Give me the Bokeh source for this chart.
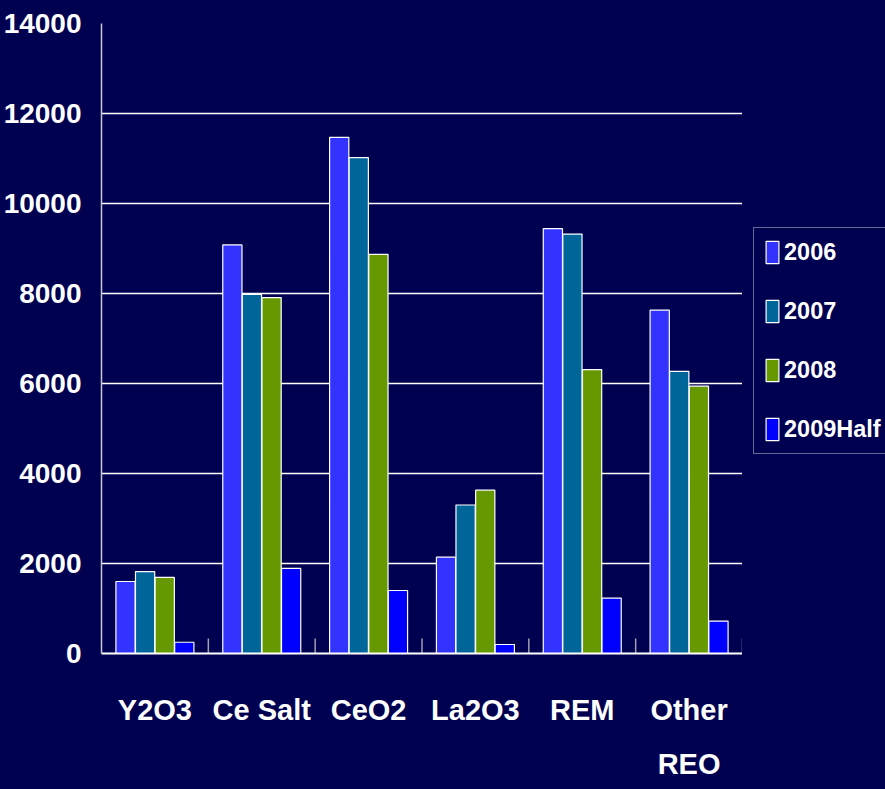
from bokeh.plotting import figure
from bokeh.layouts import row
from bokeh.models import (ColumnDataSource, Legend, LegendItem, FactorRange,
                          Range1d)
from bokeh.transform import dodge
from bokeh.embed import file_html
from bokeh.resources import INLINE

categories = ["Y2O3", "Ce Salt", "CeO2", "La2O3", "REM", "Other\nREO"]
y2006 = [1600, 9080, 11470, 2140, 9440, 7630]
y2007 = [1820, 7980, 11020, 3300, 9320, 6270]
y2008 = [1690, 7910, 8870, 3630, 6310, 5940]
y2009half = [250, 1890, 1400, 200, 1230, 720]
series_names = ["2006", "2007", "2008", "2009Half"]
y_ticks = [0, 2000, 4000, 6000, 8000, 10000, 12000, 14000]

BG = "#000050"
FONT = "Liberation Sans"

src = ColumnDataSource(dict(cat=categories, y2006=y2006, y2007=y2007,
                            y2008=y2008, y2009half=y2009half))

p = figure(x_range=FactorRange(*categories), y_range=(0, 14000),
           frame_width=641, frame_height=630, output_backend="svg",
           toolbar_location=None,
           min_border_left=100, min_border_right=0, min_border_top=23,
           min_border_bottom=136)
p.background_fill_color = BG
p.border_fill_color = BG
p.outline_line_color = None
p.x_range.range_padding = 0

cols = ["y2006", "y2007", "y2008", "y2009half"]
colors = ["#3333FF", "#006699", "#669900", "#0000FF"]
offsets = [-0.275, -0.092, 0.092, 0.275]
for c, col, off in zip(cols, colors, offsets):
    p.vbar(x=dodge("cat", off, range=p.x_range), top=c, width=0.18,
           source=src, fill_color=col, line_color="white", line_width=1.2)

# category separator ticks
p.rect(x=dodge("cat", 0.5, range=p.x_range), y=0, width=1.5, height=30,
       width_units="screen", height_units="screen", source=src,
       fill_color="#a0a0b0", line_color=None)

# axes
p.yaxis.ticker = y_ticks
p.ygrid.ticker = y_ticks
p.ygrid.grid_line_color = "white"
p.ygrid.grid_line_width = 1.6
p.xgrid.grid_line_color = None

p.yaxis.axis_line_color = "#c8c8d0"
p.yaxis.axis_line_width = 1.5
p.yaxis.major_tick_line_color = None
p.yaxis.major_tick_out = 0
p.yaxis.major_tick_in = 0
p.yaxis.minor_tick_line_color = None
p.yaxis.minor_tick_out = 0
p.yaxis.major_label_text_color = "white"
p.yaxis.major_label_text_font = FONT
p.yaxis.major_label_text_font_style = "bold"
p.yaxis.major_label_text_font_size = "28px"
p.yaxis.major_label_standoff = 20

p.xaxis.axis_line_color = "white"
p.xaxis.axis_line_width = 2
p.xaxis.major_tick_line_color = None
p.xaxis.major_tick_out = 0
p.xaxis.major_label_text_color = "white"
p.xaxis.major_label_text_font = FONT
p.xaxis.major_label_text_font_style = "bold"
p.xaxis.major_label_text_font_size = "29px"
p.xaxis.major_label_standoff = 40
p.xaxis.major_label_text_line_height = 1.7

# legend panel to the right of the plot (frame aligned with the main frame)
lp = figure(width=144, height=789, output_backend="svg", toolbar_location=None,
            x_axis_type=None, y_axis_type=None,
            x_range=Range1d(0, 1), y_range=Range1d(0, 1),
            min_border_left=11, min_border_top=23, min_border_right=0,
            min_border_bottom=136)
lp.background_fill_color = BG
lp.border_fill_color = BG
lp.outline_line_color = None
lp.grid.visible = False
key_src = ColumnDataSource(dict(x=[10], top=[1]))  # swatch source, off-range
items = []
for n, col in zip(series_names, colors):
    r = lp.vbar(x="x", top="top", width=0.1, source=key_src, fill_color=col,
                line_color="white", line_width=1.2)
    items.append(LegendItem(label=n, renderers=[r]))
legend = Legend(items=items, location=(0, 199), orientation="vertical",
                glyph_width=16, glyph_height=28, label_standoff=4,
                label_text_color="white", label_text_font=FONT,
                label_text_font_style="bold", label_text_font_size="23.5px",
                label_height=28, spacing=31, padding=10, margin=0,
                background_fill_color=BG, background_fill_alpha=1,
                border_line_color="#d0d0d8", border_line_width=1.5)
lp.add_layout(legend, "center")

layout = row(p, lp, spacing=0)
html = file_html(layout, INLINE)
html = html.replace("<head>", "<head><style>html,body{margin:0;padding:0;background:#000050;}</style>", 1)
open("out.html", "w").write(html)
